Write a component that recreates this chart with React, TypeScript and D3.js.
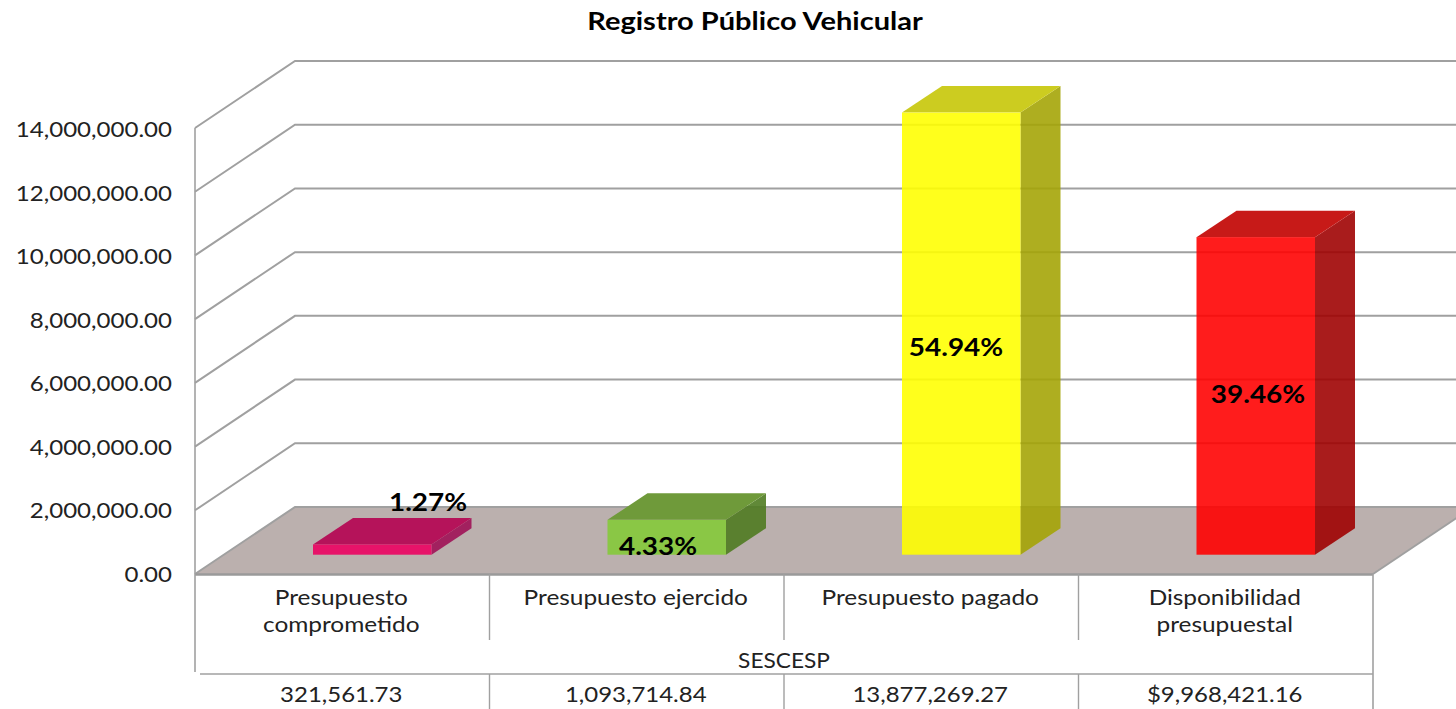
import React from "react";
import * as d3 from "d3";

const categories = [["Presupuesto", "comprometido"], ["Presupuesto ejercido"], ["Presupuesto pagado"], ["Disponibilidad", "presupuestal"]];
const values = [321561.73, 1093714.84, 13877269.27, 9968421.16];
const valueLabels = ["321,561.73", "1,093,714.84", "13,877,269.27", "$9,968,421.16"];
const percents = ["1.27%", "4.33%", "54.94%", "39.46%"];
const fronts = ["#ec0061", "#83ca38", "#ffff00", "#ff0000"];
const tops = ["#b5135a", "#6f9a3a", "#cccc20", "#c71a18"];
const sides = ["#9e1055", "#4e7a20", "#a4a404", "#9e0000"];
const yTicks = [0, 2e6, 4e6, 6e6, 8e6, 10e6, 12e6, 14e6];
const groupLabel = "SESCESP";
const title = "Registro Público Vehicular";
const labelCx = [428, 658, 956, 1258];
const labelY = [503, 547, 348, 395];

const FONT = "Lato, sans-serif";

function T({ x, y, sx = 1.1, size, bold, anchor = "middle", fill = "#222", children }: any) {
  return (
    <text transform={`translate(${x},${y}) scale(${sx},1)`} textAnchor={anchor} fontFamily={FONT} fontWeight={bold ? 700 : 400} fontSize={size} fill={fill}>
      {children}
    </text>
  );
}

export default function App() {
  const y = d3.scaleLinear().domain([0, 14e6]).range([574, 128]);
  const x = d3.scaleBand<number>().domain([0, 1, 2, 3]).range([195, 1373]);
  const fmt = d3.format(",.2f");
  const DX = 100, DY = -67;
  const bdx = 40, bdy = -26.5;
  const barW = 118.5;
  const baseShift = -19.3;
  const band = x.bandwidth();
  const edges = [1, 2, 3].map((i) => x(i)!);
  const grey = "#a0a0a0";
  const alpha = 0.89;
  const poly = (pts: number[][]) => pts.map((p) => p.join(",")).join(" ");

  return (
    <svg width={1456} height={709} style={{ position: "absolute", left: 0, top: 0, background: "#fff" }}>
      <polygon points={poly([[195, 574], [295, 507], [1473, 507], [1373, 574]])} fill="#bbb0ae" />
      {yTicks.map((t) => (
        <polyline key={t} points={poly([[195, y(t)], [195 + DX, y(t) + DY], [1473, y(t) + DY]])} fill="none" stroke={grey} strokeWidth={2} />
      ))}
      <line x1={195} x2={1373} y1={574.5} y2={574.5} stroke="#9a9a9a" strokeWidth={2.6} />
      <line x1={1373} x2={1473} y1={574} y2={507} stroke={grey} strokeWidth={2} />
      <line x1={195} x2={195} y1={y(14e6)} y2={672} stroke={grey} strokeWidth={1.6} />
      <line x1={1373} x2={1373} y1={574} y2={709} stroke={grey} strokeWidth={1.6} />
      {edges.map((e) => (
        <g key={e}>
          <line x1={e} x2={e} y1={574} y2={640} stroke={grey} strokeWidth={1.4} />
          <line x1={e} x2={e} y1={674} y2={709} stroke={grey} strokeWidth={1.4} />
        </g>
      ))}
      <line x1={200} x2={1373} y1={674} y2={674} stroke={grey} strokeWidth={1.4} />

      {values.map((v, i) => {
        const cx = x(i)! + band / 2 + 30;
        const l = cx - barW / 2, r = cx + barW / 2;
        const b = y(0) + baseShift, t = y(v) + baseShift;
        return (
          <g key={i}>
            <polygon points={poly([[r, t], [r + bdx, t + bdy], [r + bdx, b + bdy], [r, b]])} fill={sides[i]} fillOpacity={alpha} />
            <polygon points={poly([[l, t], [l + bdx, t + bdy], [r + bdx, t + bdy], [r, t]])} fill={tops[i]} />
            <rect x={l} y={t} width={barW} height={b - t} fill={fronts[i]} fillOpacity={alpha} />
          </g>
        );
      })}

      {values.map((_, i) => (
        <T key={i} x={labelCx[i]} y={labelY[i] + 8} size={24.5} bold sx={1.14} fill="#000">{percents[i]}</T>
      ))}

      {yTicks.map((t) => (
        <T key={t} x={172} y={y(t) + 8 - (1 - t / 14e6) + 1} size={22} sx={1.095} anchor="end">{fmt(t)}</T>
      ))}

      {categories.map((lines, i) =>
        lines.map((s, j) => (
          <T key={`${i}-${j}`} x={x(i)! + band / 2 - 1} y={605 + j * 27} size={21.5} sx={1.135}>{s}</T>
        ))
      )}
      <T x={784} y={668} size={21} sx={1.08}>{groupLabel}</T>
      {valueLabels.map((s, i) => (
        <T key={i} x={x(i)! + band / 2 - 1} y={702} size={22} sx={1.09}>{s}</T>
      ))}
      <T x={755} y={30} size={24.5} bold sx={1.185} fill="#000">{title}</T>
    </svg>
  );
}
